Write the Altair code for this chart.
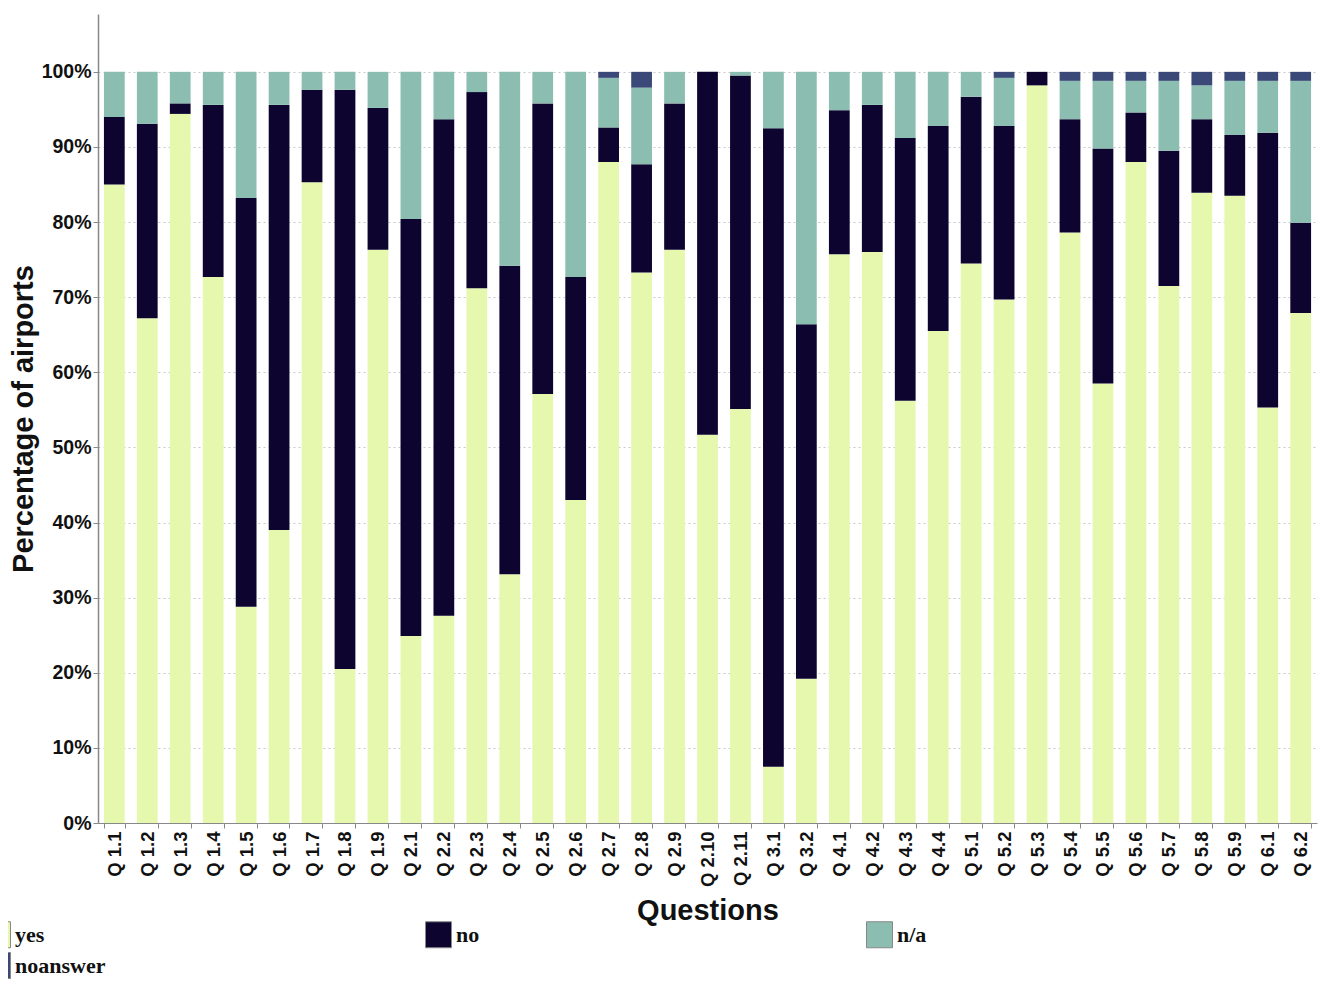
import altair as alt
import pandas as pd

questions = ["Q 1.1", "Q 1.2", "Q 1.3", "Q 1.4", "Q 1.5", "Q 1.6", "Q 1.7", "Q 1.8", "Q 1.9",
             "Q 2.1", "Q 2.2", "Q 2.3", "Q 2.4", "Q 2.5", "Q 2.6", "Q 2.7", "Q 2.8", "Q 2.9",
             "Q 2.10", "Q 2.11", "Q 3.1", "Q 3.2", "Q 4.1", "Q 4.2", "Q 4.3", "Q 4.4",
             "Q 5.1", "Q 5.2", "Q 5.3", "Q 5.4", "Q 5.5", "Q 5.6", "Q 5.7", "Q 5.8", "Q 5.9",
             "Q 6.1", "Q 6.2"]

yes = [85.0, 67.2, 94.4, 72.7, 28.8, 39.0, 85.3, 20.5, 76.3,
       24.9, 27.6, 71.2, 33.1, 57.1, 43.0, 88.0, 73.3, 76.3,
       51.7, 55.1, 7.5, 19.2, 75.7, 76.0, 56.2, 65.5,
       74.5, 69.7, 98.2, 78.6, 58.5, 88.0, 71.5, 83.9, 83.5,
       55.3, 67.9]
no = [9.0, 25.9, 1.4, 22.9, 54.4, 56.6, 12.3, 77.1, 18.9,
      55.5, 66.1, 26.1, 41.1, 38.7, 29.7, 4.6, 14.4, 19.5,
      48.3, 44.4, 85.0, 47.2, 19.2, 19.6, 35.0, 27.3,
      22.2, 23.1, 1.8, 15.1, 31.3, 6.6, 18.0, 9.8, 8.1,
      36.6, 12.0]
na = [6.0, 6.9, 4.2, 4.4, 16.8, 4.4, 2.4, 2.4, 4.8,
      19.6, 6.3, 2.7, 25.8, 4.2, 27.3, 6.6, 10.2, 4.2,
      0.0, 0.5, 7.5, 33.6, 5.1, 4.4, 8.8, 7.2,
      3.3, 6.4, 0.0, 5.1, 9.0, 4.2, 9.3, 4.5, 7.2,
      6.9, 18.9]
noanswer = [0, 0, 0, 0, 0, 0, 0, 0, 0,
            0, 0, 0, 0, 0, 0, 0.8, 2.1, 0,
            0, 0, 0, 0, 0, 0, 0, 0,
            0, 0.8, 0, 1.2, 1.2, 1.2, 1.2, 1.8, 1.2,
            1.2, 1.2]

categories = ["yes", "no", "n/a", "noanswer"]
colors = ["#E5F8AE", "#0D0530", "#8BBEB0", "#3A4977"]

rows = []
for i, q in enumerate(questions):
    for k, (cat, vals) in enumerate(zip(categories, [yes, no, na, noanswer])):
        rows.append({"question": q, "answer": cat, "value": vals[i], "ord": k})
df = pd.DataFrame(rows)

bars = alt.Chart(df).mark_bar().encode(
    x=alt.X("question:N", sort=questions,
            scale=alt.Scale(paddingInner=0.37, paddingOuter=0.18),
            axis=alt.Axis(title="Questions", labelAngle=-90, labelFontSize=18.5,
                          labelFontWeight="bold", labelFont="Liberation Sans",
                          labelColor="#111", labelPadding=3, tickBand="extent",
                          tickSize=5, tickColor="#888", domainColor="#888",
                          titleFontSize=29, titleFontWeight="bold",
                          titleFont="Liberation Sans", titleColor="#111",
                          titleY=87, titleBaseline="middle")),
    y=alt.Y("value:Q", stack="zero",
            scale=alt.Scale(domain=[0, 107.7], nice=False, zero=True),
            axis=alt.Axis(title="Percentage of airports", values=list(range(0, 101, 10)),
                          labelExpr="datum.value + '%'", labelFontSize=19.5,
                          labelFontWeight="bold", labelFont="Liberation Sans",
                          labelColor="#111", labelPadding=2,
                          tickSize=5, tickColor="#888", domainColor="#888",
                          domainWidth=1.5,
                          grid=True, gridDash=[2, 3], gridColor="#c8c8c8",
                          titleFontSize=29, titleFontWeight="bold",
                          titleFont="Liberation Sans", titleColor="#111",
                          titleAngle=-90, titleX=-75, titleY=404.5,
                          titleAlign="center", titleBaseline="middle")),
    color=alt.Color("answer:N",
                    scale=alt.Scale(domain=categories, range=colors),
                    legend=alt.Legend(title=None, orient="none", legendX=-114, legendY=907,
                                      direction="horizontal", columns=3, gridAlign="all",
                                      columnPadding=317, rowPadding=0, padding=0,
                                      symbolType="square", symbolSize=676,
                                      symbolStrokeColor="#888", symbolStrokeWidth=1,
                                      symbolOpacity=1,
                                      labelFont="Liberation Serif", labelFontWeight="bold",
                                      labelFontSize=22, labelColor="#111",
                                      labelOffset=4, labelLimit=300)),
    order=alt.Order("ord:Q", sort="ascending"),
)

chart = bars.properties(
    width=1219, height=809,
    background="white",
    autosize=alt.AutoSizeParams(type="none"),
    padding={"left": 90, "top": 6, "right": 2, "bottom": 157},
).configure_view(stroke=None)

chart.save("out.html", embed_options={"renderer": "svg", "actions": False})
